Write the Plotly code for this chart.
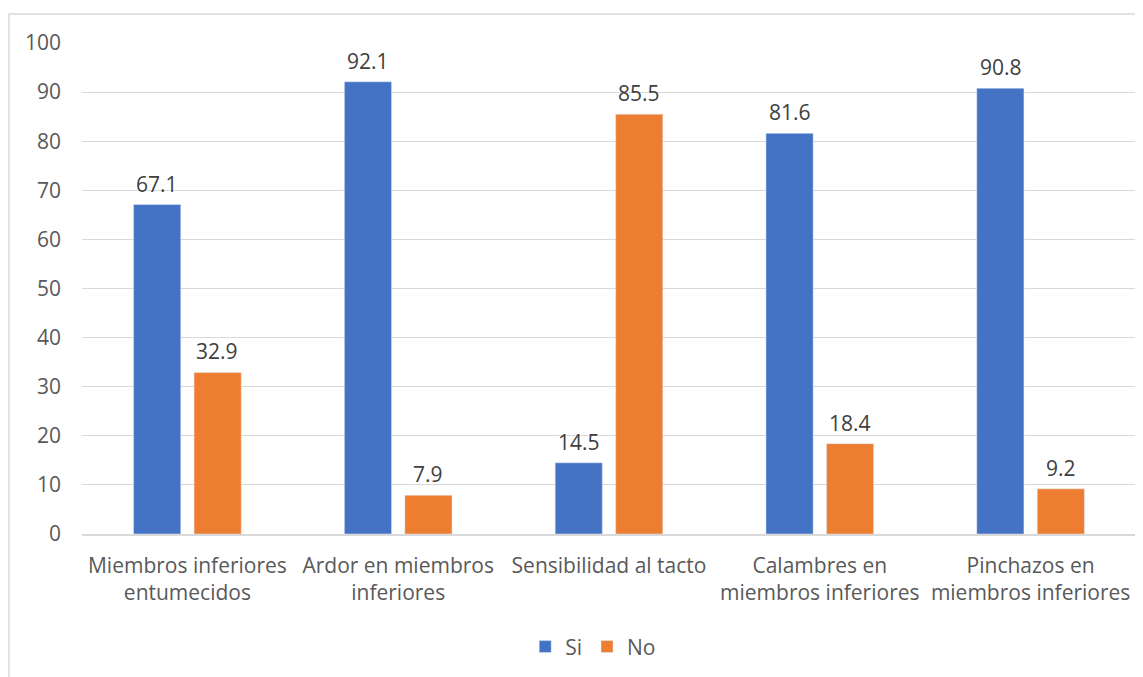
import plotly.graph_objects as go

categorias = [
    "Miembros inferiores<br>entumecidos",
    "Ardor en miembros<br>inferiores",
    "Sensibilidad al tacto",
    "Calambres en<br>miembros inferiores",
    "Pinchazos en<br>miembros inferiores",
]
si = [67.1, 92.1, 14.5, 81.6, 90.8]
no = [32.9, 7.9, 85.5, 18.4, 9.2]

fuente = "Open Sans"
gris = "#595959"
tam = 21

fig = go.Figure()
fig.add_trace(go.Bar(x=categorias, y=si, name="Si", marker_color="#4472C4"))
fig.add_trace(go.Bar(x=categorias, y=no, name="No", marker_color="#ED7D31"))

# etiquetas de datos un poco por encima de cada barra (como en Excel)
for serie, desplaz in ((si, -30), (no, 30)):
    for cat, v in zip(categorias, serie):
        fig.add_annotation(x=cat, y=v, xref="x", yref="y", text=f"{v:.1f}",
                           showarrow=False, xshift=desplaz, yanchor="bottom", yshift=5,
                           font=dict(family=fuente, size=tam, color="#404040"))

# borde del area del grafico
fig.add_shape(type="rect", xref="paper", yref="paper",
              x0=-0.0693, x1=1.05, y0=-0.4, y1=1.059,
              line=dict(color="#d9d9d9", width=1.5), layer="below")

fig.update_layout(
    width=1135, height=669,
    margin=dict(l=74, r=7, t=35, b=143),
    plot_bgcolor="white", paper_bgcolor="white",
    font=dict(family=fuente, size=tam, color=gris),
    barmode="group", bargap=0.426, bargroupgap=0.22,
    showlegend=True,
    legend=dict(orientation="h", x=0.485, xanchor="center", y=-0.23, yanchor="middle",
                font=dict(size=tam, color=gris), itemwidth=30, traceorder="normal"),
)
fig.update_yaxes(range=[0, 100], dtick=10, showgrid=True, gridcolor="#d9d9d9", gridwidth=1,
                 zeroline=False, showline=False, ticks="", ticklabelstandoff=20,
                 tickfont=dict(size=tam, color=gris))
fig.update_xaxes(showline=True, linecolor="#d9d9d9", linewidth=1.5, ticks="",
                 ticklabelstandoff=12, tickfont=dict(size=tam, color=gris), tickangle=0)

fig.write_html("out.html")
